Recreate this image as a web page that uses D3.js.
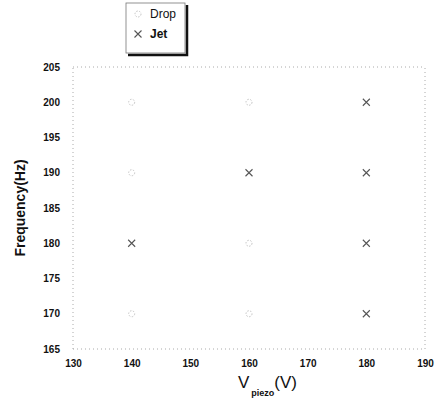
<!DOCTYPE html>
<html>
<head>
<meta charset="utf-8">
<script src="https://cdn.jsdelivr.net/npm/d3@7/dist/d3.min.js"></script>
<style>
  html, body { margin: 0; padding: 0; background: #fff; }
  svg { display: block; }
  text { font-family: "Liberation Sans", Arial, sans-serif; font-weight: bold; fill: #111; }
</style>
</head>
<body>
<svg id="chart" width="439" height="399"></svg>
<script>
// Operating points: piezo voltage (V) vs driving frequency (Hz)
const dropVoltage = [140, 140, 140, 160, 160, 160];
const dropFreq    = [200, 190, 170, 200, 180, 170];
const jetVoltage  = [140, 160, 180, 180, 180, 180];
const jetFreq     = [180, 190, 200, 190, 180, 170];

const xTicks = [130, 140, 150, 160, 170, 180, 190];
const yTicks = [165, 170, 175, 180, 185, 190, 195, 200, 205];

const svg = d3.select("#chart");
const margin = { left: 73, right: 14, top: 67, bottom: 50 };
const W = 439, H = 399;

const x = d3.scaleLinear().domain([130, 190]).range([margin.left, W - margin.right]);
const y = d3.scaleLinear().domain([165, 205]).range([H - margin.bottom, margin.top]);

// faint dotted plot frame
const frame = svg.append("g")
  .attr("fill", "none")
  .attr("stroke", "#aaa")
  .attr("stroke-width", 1)
  .attr("stroke-dasharray", "1,3");
frame.append("line").attr("x1", x(130)).attr("x2", x(190)).attr("y1", y(205)).attr("y2", y(205));
frame.append("line").attr("x1", x(130)).attr("x2", x(190)).attr("y1", y(165)).attr("y2", y(165));
frame.append("line").attr("x1", x(130)).attr("x2", x(130)).attr("y1", y(165)).attr("y2", y(205));
frame.append("line").attr("x1", x(190)).attr("x2", x(190)).attr("y1", y(165)).attr("y2", y(205));

// axes: labels only, tick marks are hidden
const xAxis = svg.append("g")
  .attr("transform", `translate(0,${y(165) + 7})`)
  .call(d3.axisBottom(x).tickValues(xTicks).tickSize(0).tickPadding(4));
const yAxis = svg.append("g")
  .attr("transform", `translate(${x(130) - 11},0)`)
  .call(d3.axisLeft(y).tickValues(yTicks).tickSize(0).tickPadding(2));
[xAxis, yAxis].forEach(g => {
  g.select(".domain").remove();
  g.selectAll("text")
    .style("font-family", "'Liberation Sans', Arial, sans-serif")
    .style("font-weight", "bold")
    .style("font-size", "10px")
    .attr("fill", "#111");
});

// axis titles
const xt = svg.append("text")
  .attr("x", 238).attr("y", 388)
  .style("font-size", "17px")
  .style("font-weight", "normal");
xt.append("tspan").text("V");
xt.append("tspan").attr("dy", 8).attr("dx", 2).style("font-size", "9px").style("font-weight", "bold").text("piezo");
xt.append("tspan").attr("dy", -8).text("(V)");

svg.append("text")
  .attr("transform", `translate(25,${(y(165) + y(205)) / 2}) rotate(-90)`)
  .attr("text-anchor", "middle")
  .style("font-size", "14px")
  .text("Frequency(Hz)");

// markers
function drawX(g, cx, cy) {
  g.append("path")
    .attr("d", "M-3.5,-3.5L3.5,3.5M-3.5,3.5L3.5,-3.5")
    .attr("transform", `translate(${cx},${cy})`)
    .attr("stroke", "#555").attr("stroke-width", 1.1).attr("fill", "none");
}

const dropG = svg.append("g");
dropG.selectAll("circle")
  .data(d3.zip(dropVoltage, dropFreq))
  .join("circle")
  .attr("cx", d => x(d[0]))
  .attr("cy", d => y(d[1]))
  .attr("r", 3)
  .attr("fill", "none")
  .attr("stroke", "#c4c4c4")
  .attr("stroke-width", 1)
  .attr("stroke-dasharray", "1.5,1.5");

const jetG = svg.append("g");
d3.zip(jetVoltage, jetFreq).forEach(d => drawX(jetG, x(d[0]), y(d[1])));

// legend box with drop shadow edge
const lg = svg.append("g");
lg.append("rect").attr("x", 126).attr("y", 3).attr("width", 59).attr("height", 50)
  .attr("fill", "#fff").attr("stroke", "#777").attr("stroke-width", 0.8);
lg.append("path").attr("d", "M187,5 L187,55 L128,55")
  .attr("fill", "none").attr("stroke", "#111").attr("stroke-width", 2.5);
lg.append("circle").attr("cx", 138).attr("cy", 14).attr("r", 3)
  .attr("fill", "none").attr("stroke", "#c4c4c4").attr("stroke-dasharray", "1.5,1.5");
drawX(lg, 138, 34);
lg.append("text").attr("x", 150).attr("y", 18).style("font-size", "12px").style("font-weight", "normal").text("Drop");
lg.append("text").attr("x", 150).attr("y", 38).style("font-size", "12px").text("Jet");
</script>
</body>
</html>
